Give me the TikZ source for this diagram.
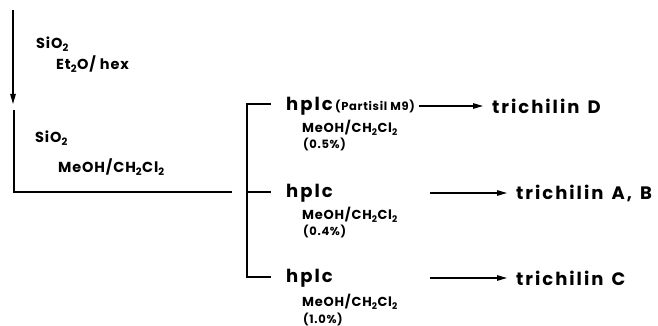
\documentclass[tikz,border=0pt]{standalone}
\usepackage{fontspec}
\setmainfont{Poppins}[LetterSpace=6]
\newfontfamily\bigf{Poppins}[LetterSpace=11,WordSpace=1.4]
\newfontfamily\midf{Poppins}[LetterSpace=6]
\usetikzlibrary{arrows.meta}
\begin{document}
\begin{tikzpicture}[x=1pt,y=-1pt,
  big/.style={anchor=west,inner sep=0pt,font=\bigf\bfseries\fontsize{18}{18}\selectfont},
  mid/.style={anchor=west,inner sep=0pt,font=\midf\bfseries\fontsize{13}{13}\selectfont},
  lmid/.style={anchor=west,inner sep=0pt,font=\midf\bfseries\fontsize{14.5}{15}\selectfont},
  sml/.style={anchor=west,inner sep=0pt,font=\midf\bfseries\fontsize{11.5}{12}\selectfont},
  ln/.style={line width=1.4pt},
  arr/.style={line width=1.2pt,-{Triangle[length=10pt,width=5.5pt]}}]
\useasboundingbox (0,0) rectangle (658,326);
% first column
\coordinate (a0) at (13,10);
\coordinate (a1) at (13,104);
\draw[arr] (a0) -- (a1);
\node[lmid] (s1) at (36,44) {SiO\textsubscript{2}};
\node[lmid] (e1) at (56,64) {Et\textsubscript{2}O/ hex};
\coordinate (b0) at (14,110);
\coordinate (b1) at (14,192);
\coordinate (b2) at (232,192);
\draw[ln] (b0) -- (b1) -- (b2);
\node[lmid] (s2) at (35,138) {SiO\textsubscript{2}};
\node[lmid] (m0) at (58,167) {MeOH/CH\textsubscript{2}Cl\textsubscript{2}};
% bracket
\coordinate (t1) at (271,104);
\coordinate (t2) at (271,192);
\coordinate (t3) at (271,277);
\draw[ln] (t1) -- (247,104) -- (247,277) -- (t3);
\draw[ln] (247,192) -- (t2);
% row 1
\node[big] (h1) at (286,106) {hplc};
\node[sml,anchor=base west] (p1) at ([xshift=2pt]h1.base east) {(Partisil M9)};
\node[big] (r1) at (492,106) {trichilin D};
\coordinate (q1) at (419,106);
\draw[arr] (q1) -- ([xshift=-9pt]r1.west);
\node[mid] (m1) at (302,128) {MeOH/CH\textsubscript{2}Cl\textsubscript{2}};
\node[sml] (c1) at (303,144) {(0.5\%)};
% row 2
\node[big] (h2) at (286,193) {hplc};
\node[big] (r2) at (516,193) {trichilin A, B};
\coordinate (q2) at (430,193);
\draw[arr] (q2) -- ([xshift=-9pt]r2.west);
\node[mid] (m2) at (302,215) {MeOH/CH\textsubscript{2}Cl\textsubscript{2}};
\node[sml] (c2) at (303,231) {(0.4\%)};
% row 3
\node[big] (h3) at (286,278) {hplc};
\node[big] (r3) at (516,278) {trichilin C};
\coordinate (q3) at (430,278);
\draw[arr] (q3) -- ([xshift=-9pt]r3.west);
\node[mid] (m3) at (302,302) {MeOH/CH\textsubscript{2}Cl\textsubscript{2}};
\node[sml] (c3) at (303,319) {(1.0\%)};
\end{tikzpicture}
\end{document}
